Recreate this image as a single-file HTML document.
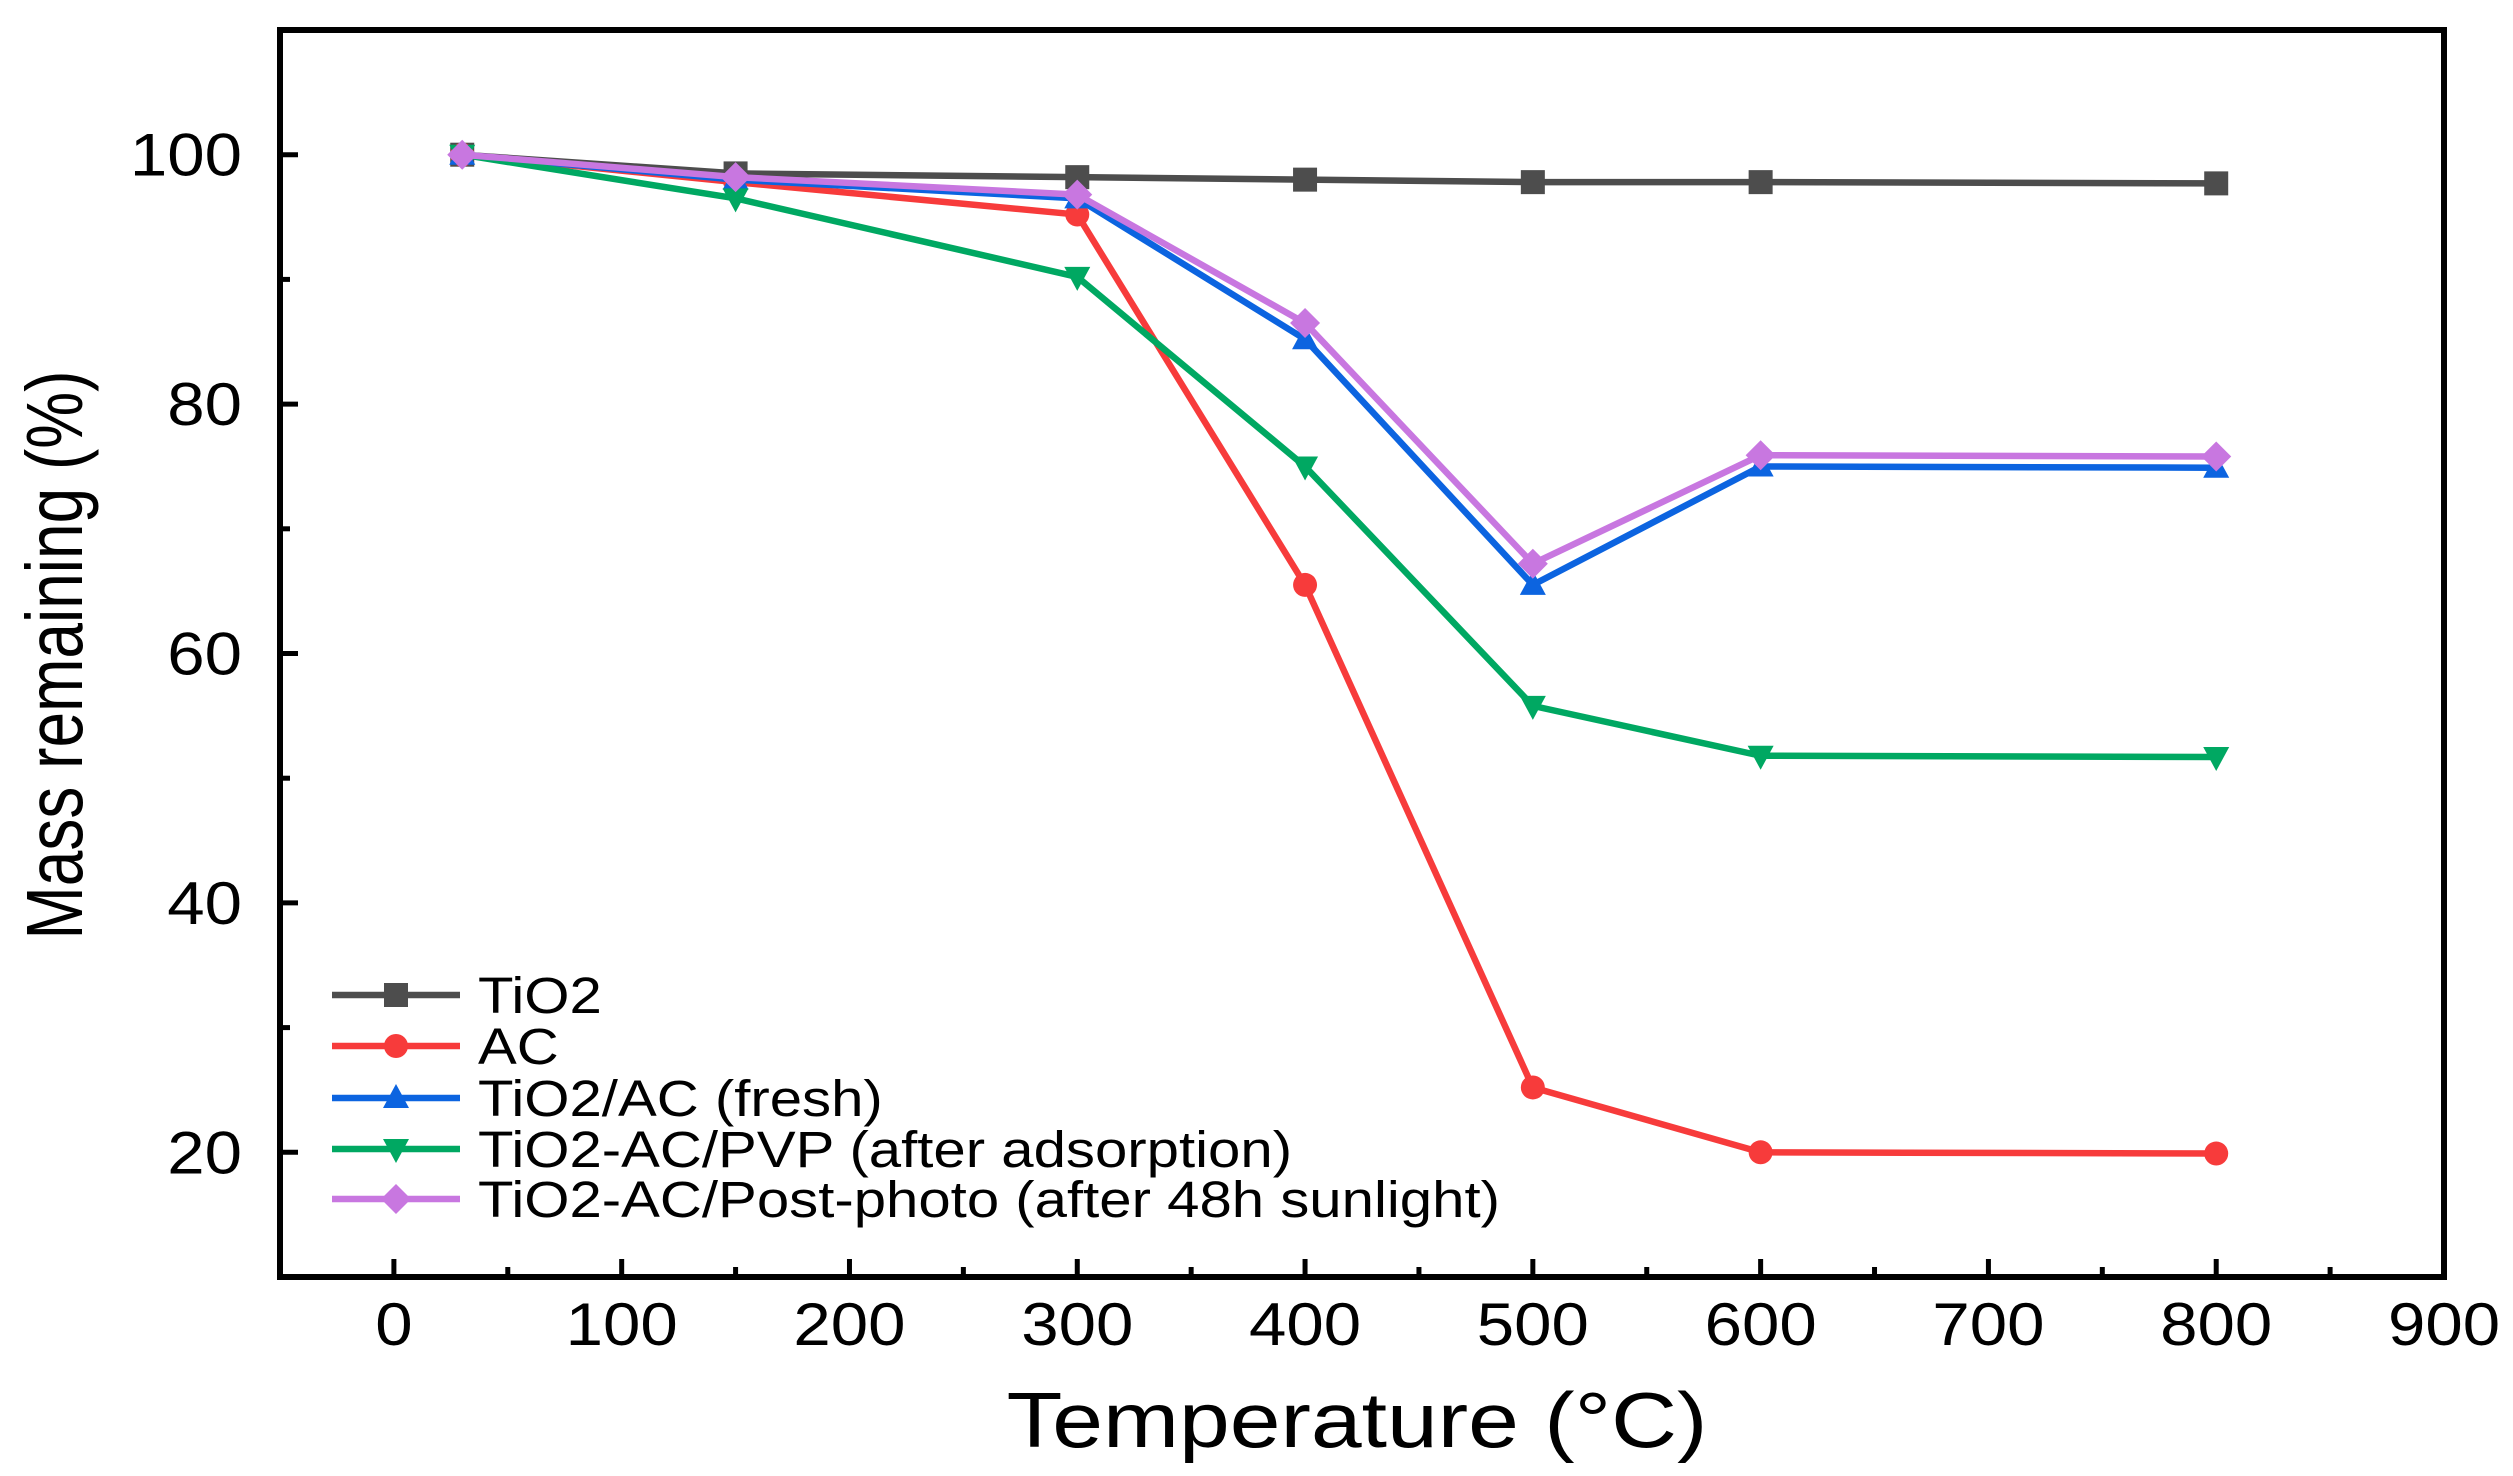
<!DOCTYPE html>
<html><head><meta charset="utf-8"><style>
html,body{margin:0;padding:0;background:#fff}
svg{display:block}
text{font-family:"Liberation Sans",Arial,sans-serif;fill:#000}
</style></head><body>
<svg id="chart" width="2513" height="1476" viewBox="0 0 2513 1476"></svg>
<script>
const xTicks=[0,100,200,300,400,500,600,700,800,900];
const yTicks=[20,40,60,80,100];
const temps=[30,150,300,400,500,600,800];
const tio2=[100,98.5,98.2,98.0,97.8,97.8,97.7];
const ac=[100,97.8,95.2,65.5,25.2,20.0,19.9];
const fresh=[100,98.0,96.5,85.2,65.5,75.0,74.9];
const pvp=[100,96.5,90.2,75.0,55.8,51.8,51.7];
const post=[100,98.2,96.8,86.5,67.2,75.9,75.8];
const seriesNames=["TiO2","AC","TiO2/AC (fresh)","TiO2-AC/PVP (after adsorption)","TiO2-AC/Post-photo (after 48h sunlight)"];

const NS="http://www.w3.org/2000/svg";
const svg=document.getElementById('chart');
const L=280,R=2444,T=30,B=1277;
const xMin=-50,xMax=900,yMin=10,yMax=110;
const X=v=>L+(v-xMin)/(xMax-xMin)*(R-L);
const Y=v=>B-(v-yMin)/(yMax-yMin)*(B-T);
function el(tag,attrs,parent){const e=document.createElementNS(NS,tag);for(const k in attrs)e.setAttribute(k,attrs[k]);(parent||svg).appendChild(e);return e;}

for(let i=0;i<xTicks.length;i++){
  const v=xTicks[i];
  const t=el('line',{x1:X(v),x2:X(v),y1:B,y2:B-18,stroke:'#000','stroke-width':5});
  
  
  if(i<xTicks.length-1){
    const m=el('line',{x1:X(v+50),x2:X(v+50),y1:B,y2:B-10,stroke:'#000','stroke-width':5});
    
    
  }
  const lb=el('text',{x:0,y:0,'text-anchor':'middle','font-size':60,transform:`translate(${X(v)},${B+68}) scale(1.12,1)`});
  lb.textContent=v;
  
  
}
for(let i=0;i<yTicks.length;i++){
  const v=yTicks[i];
  const t=el('line',{x1:L,x2:L+18,y1:Y(v),y2:Y(v),stroke:'#000','stroke-width':5});
  
  
  const m=el('line',{x1:L,x2:L+10,y1:Y(v-10),y2:Y(v-10),stroke:'#000','stroke-width':5});
  
  
  const lb=el('text',{x:0,y:0,'text-anchor':'end','font-size':60,transform:`translate(${L-38},${Y(v)+21}) scale(1.12,1)`});
  lb.textContent=v;
  
  
}
const m2=el('line',{x1:L,x2:L+10,y1:Y(110),y2:Y(110),stroke:'#000','stroke-width':5});

const colors=['#4d4d4d','#f73b3b','#0c64e0','#00a862','#c877e0'];
const data=[tio2,ac,fresh,pvp,post];
const names=['tio2','ac','fresh','pvp','post-photo'];
function marker(k,cx,cy,g){
  const c=colors[k],s=12;
  let m;
  if(k===0) m=el('rect',{x:cx-s,y:cy-s,width:2*s,height:2*s,fill:c},g);
  else if(k===1) m=el('circle',{cx:cx,cy:cy,r:s,fill:c},g);
  else if(k===2) m=el('polygon',{points:`${cx},${cy-s-2} ${cx+s+1},${cy+s-2} ${cx-s-1},${cy+s-2}`,fill:c},g);
  else if(k===3) m=el('polygon',{points:`${cx},${cy+s+2} ${cx+s+1},${cy-s+2} ${cx-s-1},${cy-s+2}`,fill:c},g);
  else m=el('polygon',{points:`${cx},${cy-s-3} ${cx+s+3},${cy} ${cx},${cy+s+3} ${cx-s-3},${cy}`,fill:c},g);
  return m;
}
for(let k=0;k<data.length;k++){
  const g=el('g',{});
  
  
  const pts=temps.map((t,i)=>X(t)+','+Y(data[k][i])).join(' ');
  const pl=el('polyline',{points:pts,fill:'none',stroke:colors[k],'stroke-width':6.5,'stroke-linejoin':'round'},g);
  
  
  for(let i=0;i<temps.length;i++){
    const m=marker(k,X(temps[i]),Y(data[k][i]),g);
    
    
  }
}
const fr=el('rect',{x:L,y:T,width:R-L,height:B-T,fill:'none',stroke:'#000','stroke-width':6});



const lg=el('g',{});


const rows=[995,1046,1098,1149,1199];
for(let k=0;k<5;k++){
  const y=rows[k];
  const g=el('g',{},lg);
  
  
  el('line',{x1:332,x2:460,y1:y,y2:y,stroke:colors[k],'stroke-width':6.5},g);
  marker(k,396,y,g);
  const t=el('text',{x:0,y:0,'font-size':51,transform:`translate(478,${y+18}) scale(1.14,1)`},g);
  t.textContent=seriesNames[k];
}
const xt=el('text',{x:0,y:0,'text-anchor':'middle','font-size':78,transform:`translate(${(L+R)/2-5},1447) scale(1.17,1)`});
xt.textContent='Temperature (°C)';


const yt=el('text',{x:0,y:0,'text-anchor':'middle','font-size':80,transform:'translate(82,655) rotate(-90) scale(0.8,1)'});
yt.textContent='Mass remaining (%)';


</script>
</body></html>
